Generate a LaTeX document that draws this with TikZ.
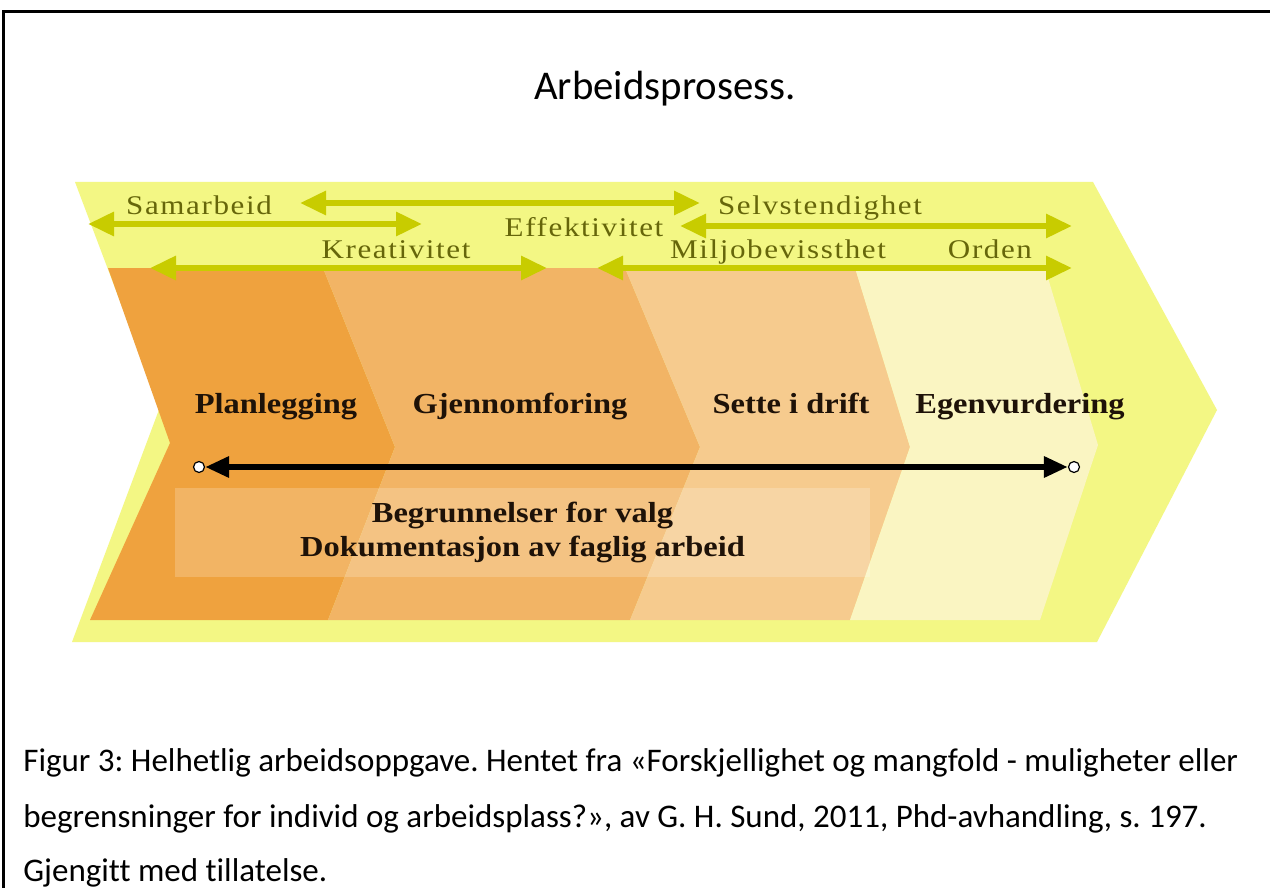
\documentclass[tikz,border=0pt]{standalone}
\usepackage{fontspec}
\setmainfont{Liberation Serif}
\newfontfamily\calibri[Ligatures=NoCommon]{Carlito}
\newfontfamily\stagefont[FakeStretch=1.12]{Liberation Serif}
\newfontfamily\valuefont[FakeStretch=1.15,LetterSpace=6]{Liberation Serif}
\usetikzlibrary{arrows.meta,positioning}
\frenchspacing

\begin{document}
\begin{tikzpicture}[x=0.5pt, y=-0.5pt,
  valarrow/.style={draw=arrowgreen, line width=3pt, {Triangle[length=13pt,width=11.5pt]}-{Triangle[length=13pt,width=11.5pt]}},
  vallabel/.style={anchor=base, inner sep=0, text=olive, font=\valuefont\fontsize{13.5}{16}\selectfont},
  stage/.style={anchor=base, inner sep=0, text=darktext, font=\stagefont\bfseries\fontsize{14.5}{17}\selectfont},
  endcirc/.style={circle, draw=black, fill=white, line width=0.6pt, minimum size=5.5pt, inner sep=0},
  mainarrow/.style={line width=3pt, {Triangle[length=12pt,width=10pt]}-{Triangle[length=12pt,width=10pt]}},
  caption/.style={anchor=base west, inner sep=0, font=\calibri\fontsize{16.5}{19}\selectfont}]
\definecolor{outeryellow}{HTML}{F3F784}
\definecolor{phaseA}{HTML}{EFA23E}
\definecolor{phaseB}{HTML}{F2B465}
\definecolor{phaseC}{HTML}{F6CB8E}
\definecolor{phaseD}{HTML}{FAF5C2}
\definecolor{arrowgreen}{HTML}{C8CC00}
\definecolor{olive}{HTML}{66660A}
\definecolor{darktext}{HTML}{1E1208}
\useasboundingbox (0,0) rectangle (1270,888);
\fill[white] (0,0) rectangle (1270,888);
% frame
\draw[line width=1.5pt] (3,888) -- (3,12) -- (1270,12);
\node[anchor=base, inner sep=0, font=\calibri\fontsize{20.4}{24}\selectfont] (title) at (665,100) {Arbeidsprosess.};
% chevrons
\fill[outeryellow] (75,182) -- (1093,182) -- (1217,410) -- (1097,642) -- (72,642) -- (160,407) -- cycle;
\fill[phaseA] (108,268) -- (323,268) -- (395,447) -- (328,620) -- (90,620) -- (170,443) -- cycle;
\fill[phaseB] (323,268) -- (625,268) -- (700,447) -- (630,620) -- (328,620) -- (395,447) -- cycle;
\fill[phaseC] (625,268) -- (855,268) -- (910,447) -- (850,620) -- (630,620) -- (700,447) -- cycle;
\fill[phaseD] (855,268) -- (1045,268) -- (1098,445) -- (1040,620) -- (850,620) -- (910,447) -- cycle;
% verdier
\coordinate (effL) at (300,203); \coordinate (effR) at (700,203);
\coordinate (samL) at (88,224); \coordinate (samR) at (422,224);
\coordinate (selL) at (680,226); \coordinate (selR) at (1072,226);
\coordinate (kreL) at (150,268); \coordinate (kreR) at (547,268);
\coordinate (milL) at (597,268); \coordinate (milR) at (1072,268);
\draw[valarrow] (effL) -- (effR);
\draw[valarrow] (samL) -- (samR);
\draw[valarrow] (selL) -- (selR);
\draw[valarrow] (kreL) -- (kreR);
\draw[valarrow] (milL) -- (milR);
\node[vallabel] (sam) at (199,214) {Samarbeid};
\node[vallabel] (eff) at (584,236) {Effektivitet};
\node[vallabel] (selv) at (820,214) {Selvstendighet};
\node[vallabel] (krea) at (396,258) {Kreativitet};
\node[vallabel] (miljo) at (778,258) {Miljobevissthet};
\node[vallabel] (orden) at (990,258) {Orden};
% faser
\node[stage] (plan) at (276,413) {Planlegging};
\node[stage] (gjen) at (520,413) {Gjennomforing};
\node[stage] (sette) at (791,413) {Sette i drift};
\node[stage] (egen) at (1020,413) {Egenvurdering};
\node[endcirc] (cL) at (199,467) {};
\node[endcirc] (cR) at (1074,467) {};
\draw[mainarrow] (cL) -- (cR);
\node[fill=white, fill opacity=0.2, text opacity=1, minimum width=347.5pt, minimum height=44.5pt, align=center, inner sep=0, text=darktext, font=\stagefont\bfseries\fontsize{14.5}{17}\selectfont] (grunn) at (522.5,532.5) {Begrunnelser for valg\\Dokumentasjon av faglig arbeid};
% figurtekst
\node[caption] (cap1) at (23,771) {Figur 3: Helhetlig arbeidsoppgave. Hentet fra «Forskjellighet og mangfold - muligheter eller};
\node[caption] (cap2) at (23,827) {begrensninger for individ og arbeidsplass?», av G. H. Sund, 2011, Phd-avhandling, s. 197.};
\node[caption] (cap3) at (23,881) {Gjengitt med tillatelse.};
\end{tikzpicture}
\end{document}
